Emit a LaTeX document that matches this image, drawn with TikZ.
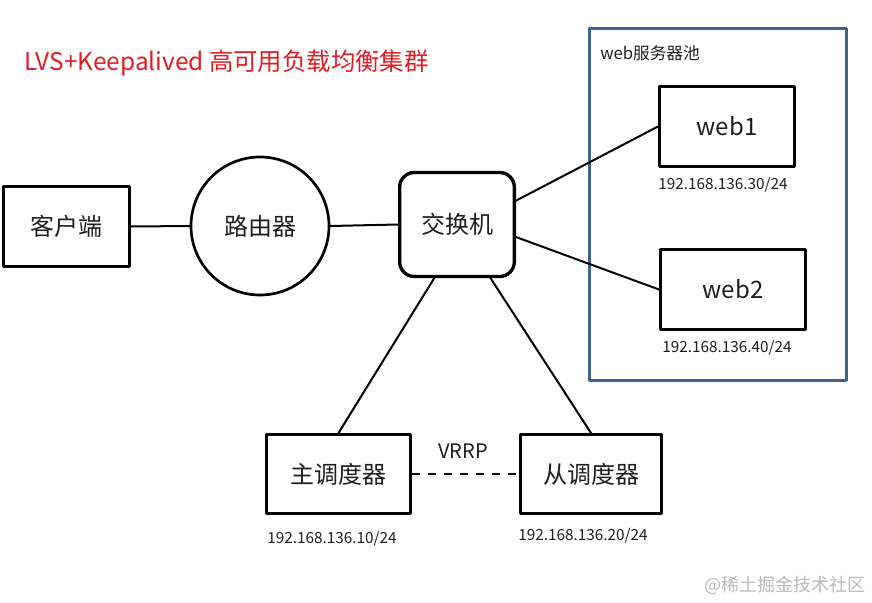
\documentclass[tikz,border=0pt]{standalone}
\usepackage{fontspec}
\setmainfont{Noto Sans CJK SC}
\usepackage{tikz}
\usetikzlibrary{arrows.meta,positioning}
\definecolor{titlered}{RGB}{226,28,34}
\definecolor{poolblue}{RGB}{62,99,143}
\definecolor{markgray}{RGB}{185,185,185}
\definecolor{inkgray}{RGB}{30,30,30}

\begin{document}
\begin{tikzpicture}[x=0.75pt,y=-0.75pt,line cap=round,line join=round,
  devbox/.style={draw=black,line width=2.5pt,inner sep=0pt,minimum height=60pt,text=inkgray,font=\fontsize{18}{22}\selectfont},
  iplabel/.style={inner sep=0pt,text=inkgray,font=\fontsize{11.5}{14}\selectfont},
  wire/.style={draw=black,line width=1.5pt}]
\path[use as bounding box] (0,0) rectangle (872,603);
% title
\node[anchor=west,text=titlered,font=\fontsize{18.3}{22}\selectfont] (title) at (20,63) {LVS+Keepalived 高可用负载均衡集群};
% web pool
\node[draw=poolblue,line width=2.25pt,minimum width=192.75pt,minimum height=264pt,inner sep=0pt] (pool) at (718,204.5) {};
\node[anchor=west,inner sep=0pt,text=inkgray,font=\fontsize{12.5}{15}\selectfont] (poollabel) at (600,53) {web服务器池};
% devices
\node[devbox,minimum width=94.25pt] (client) at (66.5,226.5) {客户端};
\node[draw=black,line width=2pt,circle,minimum size=103.5pt,inner sep=0pt,text=inkgray,font=\fontsize{18}{22}\selectfont] (router) at (260,226) {路由器};
\node[devbox,rounded corners=11pt,minimum width=86pt,minimum height=78pt] (switch) at (457,224.5) {交换机};
\node[devbox,minimum width=101pt] (web1) at (727,126.5) {web1};
\node[devbox,minimum width=108.5pt] (web2) at (733,289.5) {web2};
\node[devbox,minimum width=107.75pt,minimum height=59pt] (master) at (338.5,474) {主调度器};
\node[devbox,minimum width=105.5pt,minimum height=59pt] (backup) at (591,474) {从调度器};
% addresses
\node[iplabel] (ip1) at (723,185) {192.168.136.30/24};
\node[iplabel] (ip2) at (727,348) {192.168.136.40/24};
\node[iplabel] (ip3) at (332,539) {192.168.136.10/24};
\node[iplabel] (ip4) at (583,536) {192.168.136.20/24};
% links
\draw[wire] (client.east) -- (router.west);
\draw[wire] (router.east) -- (switch.west);
\draw[wire] (switch.22) -- (web1.west);
\draw[wire] (switch.-12) -- (web2.west);
\draw[wire] (switch.-113) -- (master.north);
\draw[wire] (switch.-58) -- (backup.north);
\draw[wire,line width=2pt,line cap=butt,dash pattern=on 6pt off 6pt] (master.east) -- (backup.west);
\node[inner sep=0pt,text=inkgray,font=\fontsize{15}{18}\selectfont] (vrrp) at (463,451) {VRRP};
% watermark
\node[inner sep=0pt,text=markgray,font=\fontsize{13.5}{16}\selectfont] (mark) at (785,585) {@稀土掘金技术社区};
\end{tikzpicture}
\end{document}
